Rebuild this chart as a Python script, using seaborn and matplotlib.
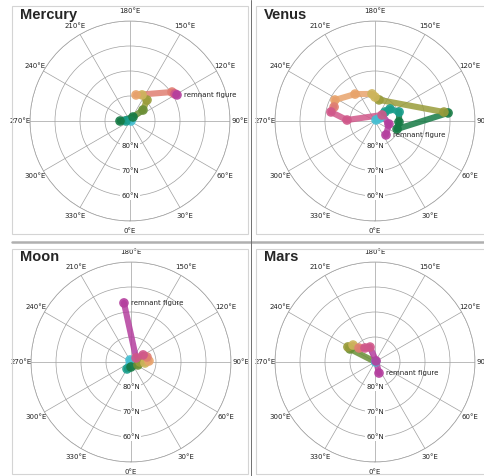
import numpy as np
import pandas as pd
import matplotlib.pyplot as plt
import seaborn as sns
from matplotlib.patches import Rectangle
from matplotlib.lines import Line2D

sns.set_style("white")
plt.rcParams["font.family"] = ["DejaVu Sans"]

# pole paths (longitude °E, latitude °N) and colour stage of each point, present -> remnant
mercury_lon = [90, 270, 270, 143.1, 130.2, 141.0, 155.2, 167.0, 124.6, 121.0, 119.0]
mercury_lat = [89.6, 88.4, 86.0, 88.0, 83.2, 79.2, 78.5, 79.3, 69.6, 69.0, 68.5]
mercury_stage = [0, 1, 2, 2, 3, 4, 5, 6, 7, 8, 9]

venus_lon = [135, 121.0, 132.0, 128.7, 110.6, 87.6, 70.0, 96.3, 97.4, 169.2,
             180, 186.3, 216.5, 242.3, 251.1, 258.4, 268.0, 130.6, 77.9, 38.2]
venus_lat = [89.4, 87.7, 84.6, 82.3, 79.7, 80.4, 80.6, 60.6, 62.2, 81.4,
             80.4, 79.1, 76.6, 71.9, 72.7, 72.0, 78.8, 86.3, 84.3, 82.9]
venus_stage = [0, 0, 1, 1, 1, 2, 2, 2, 4, 4, 5, 5, 6, 6, 7, 8, 8, 8, 9, 9]

moon_lon = [206.6, 341.6, 330.3, 0, 66.8, 90, 85.9, 93.2, 107.4, 120.3, 128.7, 186.8]
moon_lat = [89.1, 88.7, 86.8, 88.0, 87.0, 86.4, 84.4, 82.8, 83.3, 84.4, 87.4, 66.2]
moon_stage = [0, 0, 1, 2, 3, 4, 5, 6, 7, 8, 8, 9]

mars_lon = [90, 242.5, 240.9, 232.3, 228.8, 215.5, 198.4, 135, 20.0]
mars_lat = [89.8, 78.7, 77.6, 78.9, 81.5, 83.1, 83.7, 89.4, 85.3]
mars_stage = [0, 3, 4, 5, 7, 8, 8, 9, 9]

bodies = ["Mercury", "Venus", "Moon", "Mars"]
paths = {
    "Mercury": (mercury_lon, mercury_lat, mercury_stage),
    "Venus": (venus_lon, venus_lat, venus_stage),
    "Moon": (moon_lon, moon_lat, moon_stage),
    "Mars": (mars_lon, mars_lat, mars_stage),
}

stage_colors = ["#46bfd2", "#1a9e8c", "#167a45", "#6a8f36", "#999c3a",
                "#cdb55c", "#e8a46c", "#e07f72", "#d0588a", "#b43e9e"]
stage_pal = dict(enumerate(stage_colors))
lon_ticks = list(range(0, 360, 30))
colat_rings = [10, 20, 30, 40]
ring_labels = ["80°N", "70°N", "60°N", ""]

W, H = 484, 476
fig = plt.figure(figsize=(W / 100, H / 100), dpi=100)

def px(x, y):
    return x / W, 1 - y / H

centers = {"Mercury": (130, 121), "Venus": (375, 121), "Moon": (131, 362), "Mars": (375, 362)}
R = 100

# panel frames and separators
for (x0, y0, x1, y1) in [(12, 6, 248, 234), (256, 6, 492, 234), (12, 249, 248, 474), (256, 249, 492, 474)]:
    fig.add_artist(Rectangle(px(x0, y1), (x1 - x0) / W, (y1 - y0) / H, transform=fig.transFigure,
                             fill=False, edgecolor="#d4d4d4", lw=0.8))
fig.add_artist(Line2D([12 / W, 1], [1 - 241.5 / H] * 2, transform=fig.transFigure, color="#b0b0b0", lw=1.8))
fig.add_artist(Line2D([251.5 / W] * 2, [0, 1], transform=fig.transFigure, color="#707070", lw=0.7))

for name in bodies:
    cx, cy = centers[name]
    left, bottom = px(cx - R, cy + R)
    ax = fig.add_axes([left, bottom, 2 * R / W, 2 * R / H], projection="polar")
    lon, lat, stage = paths[name]
    pts = pd.DataFrame({"theta": np.deg2rad(lon), "r": 90 - np.array(lat), "stage": stage})

    segs = []
    for i in range(1, len(pts)):
        for j in (i - 1, i):
            segs.append({"seg": i, "theta": pts.theta[j], "r": pts.r[j], "stage": pts.stage[i]})
    segs = pd.DataFrame(segs)
    seg_pal = {i: stage_colors[s] for i, s in zip(segs.seg, segs.stage)}

    sns.lineplot(data=segs, x="theta", y="r", hue="seg", palette=seg_pal, units="seg",
                 estimator=None, sort=False, legend=False, lw=4.4, alpha=0.85,
                 solid_capstyle="round", ax=ax, zorder=3)
    sns.scatterplot(data=pts, x="theta", y="r", hue="stage", palette=stage_pal,
                    s=48, linewidth=0, alpha=0.9, legend=False, ax=ax, zorder=4)

    ax.set_theta_zero_location("S")
    ax.set_theta_direction(1)
    ax.set_ylim(0, 40)
    ax.set_yticks(colat_rings)
    ax.set_yticklabels([])
    ax.set_xticks(np.deg2rad(lon_ticks))
    ax.set_xticklabels([])
    ax.grid(True, color="#a0a0a0", lw=0.5)
    ax.spines["polar"].set_color("#a0a0a0")
    ax.spines["polar"].set_linewidth(0.5)
    ax.set_xlabel("")
    ax.set_ylabel("")
    for d in lon_ticks:
        a = np.deg2rad(d)
        ax.annotate(f"{d}°E", xy=(a, 40), xytext=(7.2 * np.sin(a), -7.2 * np.cos(a)),
                    textcoords="offset points", ha="center", va="center", fontsize=5,
                    color="#222222", annotation_clip=False)
    for rr, lab in zip(colat_rings, ring_labels):
        if lab:
            ax.text(0, rr, lab, ha="center", va="center", fontsize=5, color="#222222",
                    bbox=dict(facecolor="white", edgecolor="none", pad=0.6), zorder=2)
    ax.annotate("remnant figure", xy=(pts.theta.iloc[-1], pts.r.iloc[-1]), xytext=(5, 0),
                textcoords="offset points", ha="left", va="center", fontsize=5, color="#222222", zorder=5)

    tx = 20 if cx < 250 else 264
    ty = 8 if cy < 240 else 250
    fig.text(*px(tx, ty), name, fontsize=10.5, fontweight="bold", family="Liberation Sans",
             ha="left", va="top")

fig.savefig("out.png", dpi=100)
